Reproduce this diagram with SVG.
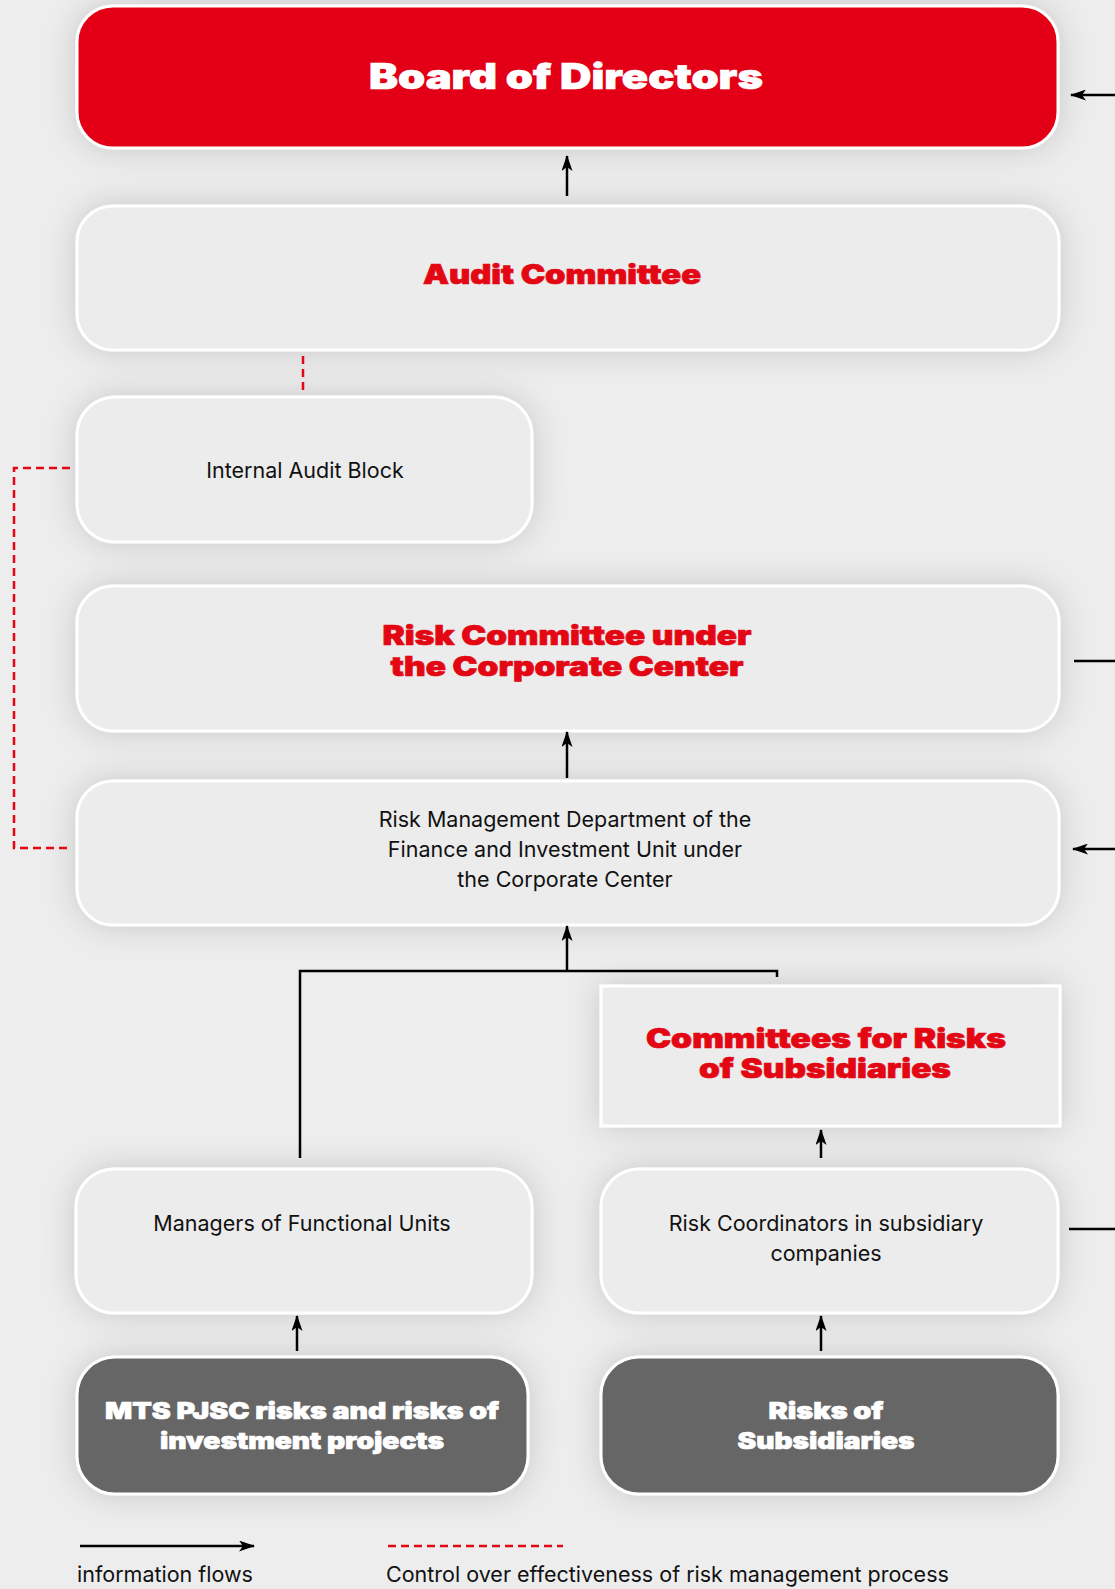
<svg xmlns="http://www.w3.org/2000/svg" width="1115" height="1589" viewBox="0 0 1115 1589">
  <style>
    .box { fill: #ececec; stroke: #ffffff; stroke-width: 3; filter: url(#shadow); }
    .red { fill: #e30613; stroke: #ffffff; stroke-width: 3; filter: url(#shadow); }
    .dark { fill: #666666; stroke: #ffffff; stroke-width: 3; filter: url(#shadow); }
    .hd { font-family: Inter, "Liberation Sans", sans-serif; font-weight: 900; text-anchor: middle; stroke-width: 0.7; }
    .hw { fill: #ffffff; stroke: #ffffff; }
    .hr { fill: #e30613; stroke: #e30613; }
    .tx { font-family: Inter, "Liberation Sans", sans-serif; font-weight: 400; font-size: 21.5px; fill: #111111; text-anchor: middle; }
    .flow { fill: none; stroke: #000000; stroke-width: 2.5; }
    .ctrl { fill: none; stroke: #e30613; stroke-width: 2.5; stroke-dasharray: 8 5; }
  </style>
  <defs>
    <filter id="shadow" x="-15%" y="-40%" width="130%" height="180%">
      <feDropShadow dx="0" dy="0" stdDeviation="16" flood-color="#000000" flood-opacity="0.16"/>
    </filter>
    <marker id="head" viewBox="0 0 16 11" refX="15" refY="5.5" markerWidth="16" markerHeight="11" markerUnits="userSpaceOnUse" orient="auto">
      <path d="M0,0 L16,5.5 L0,11 L4,5.5 Z" fill="#000000"/>
    </marker>
  </defs>

  <rect width="1115" height="1589" fill="#ededed"/>

  <!-- nodes -->
  <g id="board">
    <rect class="red" x="77" y="6" width="981" height="142" rx="36"/>
    <text class="hd hw" x="566" y="89" font-size="35" textLength="394" lengthAdjust="spacingAndGlyphs">Board of Directors</text>
  </g>
  <g id="audit-committee">
    <rect class="box" x="77" y="206" width="982" height="144" rx="36"/>
    <text class="hd hr" x="562" y="284" font-size="27" textLength="278" lengthAdjust="spacingAndGlyphs">Audit Committee</text>
  </g>
  <g id="internal-audit">
    <rect class="box" x="77" y="397" width="455" height="145" rx="38"/>
    <text class="tx" x="305" y="478">Internal Audit Block</text>
  </g>
  <g id="risk-committee">
    <rect class="box" x="77" y="586" width="982" height="145" rx="36"/>
    <text class="hd hr" x="567" y="645" font-size="27" textLength="369" lengthAdjust="spacingAndGlyphs">Risk Committee under</text>
    <text class="hd hr" x="567" y="676" font-size="27" textLength="353" lengthAdjust="spacingAndGlyphs">the Corporate Center</text>
  </g>
  <g id="risk-management">
    <rect class="box" x="77" y="781" width="982" height="144" rx="36"/>
    <text class="tx" x="565" y="827">Risk Management Department of the</text>
    <text class="tx" x="565" y="857">Finance and Investment Unit under</text>
    <text class="tx" x="565" y="887">the Corporate Center</text>
  </g>
  <g id="subsidiary-committees">
    <rect class="box" x="601" y="986" width="459" height="140"/>
    <text class="hd hr" x="826" y="1048" font-size="27" textLength="360" lengthAdjust="spacingAndGlyphs">Committees for Risks</text>
    <text class="hd hr" x="825" y="1078" font-size="27" textLength="252" lengthAdjust="spacingAndGlyphs">of Subsidiaries</text>
  </g>
  <g id="functional-managers">
    <rect class="box" x="76" y="1169" width="456" height="144" rx="38"/>
    <text class="tx" x="302" y="1231">Managers of Functional Units</text>
  </g>
  <g id="risk-coordinators">
    <rect class="box" x="601" y="1169" width="457" height="144" rx="38"/>
    <text class="tx" x="826" y="1231">Risk Coordinators in subsidiary</text>
    <text class="tx" x="826" y="1261">companies</text>
  </g>
  <g id="mts-risks">
    <rect class="dark" x="77" y="1357" width="451" height="137" rx="38"/>
    <text class="hd hw" x="302" y="1419" font-size="23" textLength="394" lengthAdjust="spacingAndGlyphs">MTS PJSC risks and risks of</text>
    <text class="hd hw" x="302" y="1449" font-size="23" textLength="284" lengthAdjust="spacingAndGlyphs">investment projects</text>
  </g>
  <g id="subsidiary-risks">
    <rect class="dark" x="601" y="1357" width="457" height="137" rx="38"/>
    <text class="hd hw" x="826" y="1419" font-size="23" textLength="115" lengthAdjust="spacingAndGlyphs">Risks of</text>
    <text class="hd hw" x="826" y="1449" font-size="23" textLength="177" lengthAdjust="spacingAndGlyphs">Subsidiaries</text>
  </g>

  <!-- connectors -->
  <g id="connectors">
    <line class="flow" x1="567" y1="196" x2="567" y2="156" marker-end="url(#head)"/>
    <line class="flow" x1="567" y1="778" x2="567" y2="732" marker-end="url(#head)"/>
    <line class="flow" x1="567" y1="971" x2="567" y2="926" marker-end="url(#head)"/>
    <polyline class="flow" points="300,1158 300,971 777,971 777,977"/>
    <line class="flow" x1="821" y1="1158" x2="821" y2="1130" marker-end="url(#head)"/>
    <line class="flow" x1="297" y1="1351" x2="297" y2="1316" marker-end="url(#head)"/>
    <line class="flow" x1="821" y1="1351" x2="821" y2="1316" marker-end="url(#head)"/>
    <line class="flow" x1="1115" y1="95" x2="1071" y2="95" marker-end="url(#head)"/>
    <line class="flow" x1="1074" y1="661" x2="1115" y2="661"/>
    <line class="flow" x1="1115" y1="849" x2="1073" y2="849" marker-end="url(#head)"/>
    <line class="flow" x1="1069" y1="1229" x2="1115" y2="1229"/>
    <line class="ctrl" x1="303" y1="356" x2="303" y2="394"/>
    <polyline class="ctrl" points="70,468 14,468 14,848 68,848"/>
  </g>

  <!-- legend -->
  <g id="legend">
    <line class="flow" x1="80" y1="1546" x2="254" y2="1546" marker-end="url(#head)"/>
    <text class="tx" x="77" y="1582" style="text-anchor:start">information flows</text>
    <line class="ctrl" x1="388" y1="1546" x2="563" y2="1546"/>
    <text class="tx" x="386" y="1582" style="text-anchor:start">Control over effectiveness of risk management process</text>
  </g>
</svg>
